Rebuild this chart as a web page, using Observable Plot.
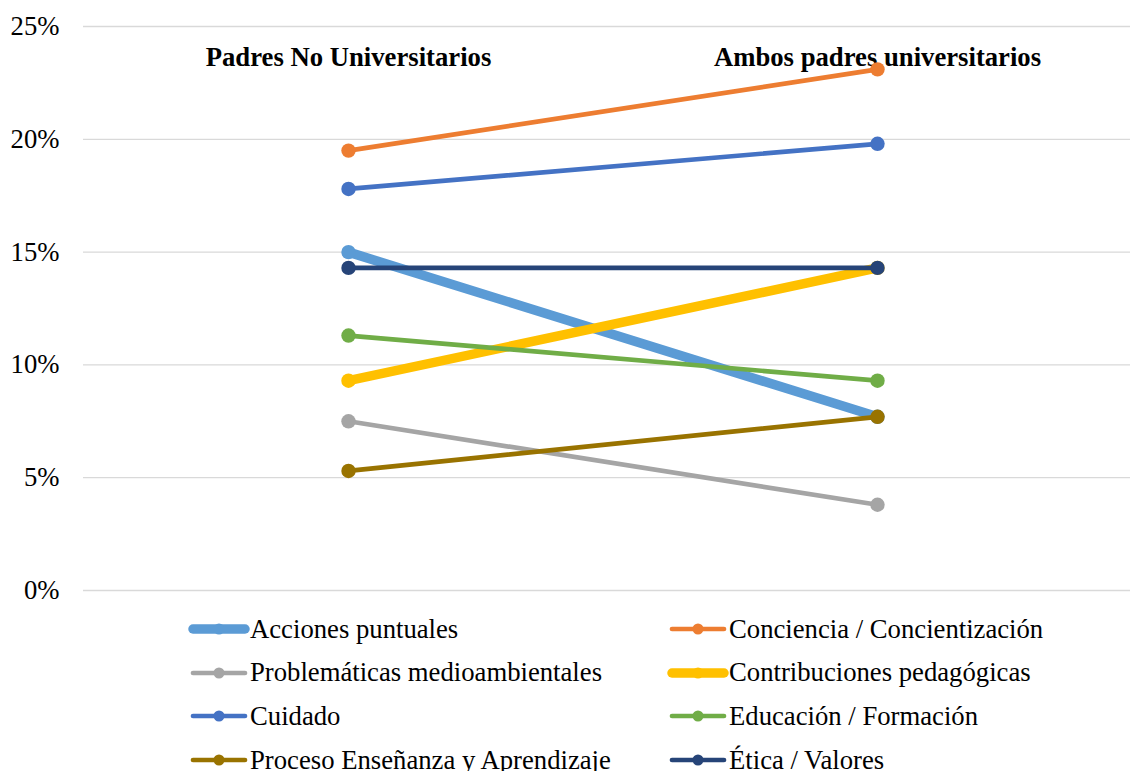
<!DOCTYPE html>
<html>
<head>
<meta charset="utf-8">
<script src="https://cdn.jsdelivr.net/npm/d3@7"></script>
<script src="https://cdn.jsdelivr.net/npm/@observablehq/plot@0.6"></script>
<style>
  html, body { margin: 0; padding: 0; background: #fff; }
  #wrap { position: relative; width: 1130px; height: 771px; overflow: hidden; font-family: "Liberation Serif", "Times New Roman", serif; }
  #legend { position: absolute; left: 0; top: 605px; width: 1130px; }
  .item { position: absolute; display: flex; align-items: center; height: 44px; font-size: 26.7px; color: #000; white-space: nowrap; }
  .item svg { display: block; flex: none; }
</style>
</head>
<body>
<div id="wrap">
  <div id="chart"></div>
  <div id="legend"></div>
</div>
<script>
// Groups compared on the horizontal axis
const categories = ["Padres No Universitarios", "Ambos padres universitarios"];

// Categories of responses (series)
const series = [
  "Acciones puntuales",
  "Conciencia / Concientización",
  "Problemáticas medioambientales",
  "Contribuciones pedagógicas",
  "Cuidado",
  "Educación / Formación",
  "Proceso Enseñanza y Aprendizaje",
  "Ética / Valores"
];

// Share of responses per series, for each group
const padresNoUniversitarios = [0.150, 0.195, 0.075, 0.093, 0.178, 0.113, 0.053, 0.143];
const ambosPadresUniversitarios = [0.077, 0.231, 0.038, 0.143, 0.198, 0.093, 0.077, 0.143];

// Y axis ticks
const yTicks = [0, 0.05, 0.10, 0.15, 0.20, 0.25];

// Series styling
const seriesColors = ["#5B9BD5", "#ED7D31", "#A5A5A5", "#FFC000", "#4472C4", "#70AD47", "#997300", "#264478"];
const seriesWidths = [9.5, 4.7, 4.7, 9.5, 4.7, 4.7, 4.7, 4.7];

const rows = series.flatMap((s, i) => [
  {series: s, group: categories[0], value: padresNoUniversitarios[i]},
  {series: s, group: categories[1], value: ambosPadresUniversitarios[i]}
]);

const W = 1130, H = 605;
const marginLeft = 83, marginTop = 26, marginBottom = H - 590;
const fontSize = 26.7;

const marks = [
  Plot.ruleY(yTicks, {stroke: "#D9D9D9", strokeWidth: 1.3}),
  Plot.axisY({
    ticks: yTicks, tickSize: 0, tickPadding: 24, tickFormat: d3.format(".0%"),
    fontSize, fill: "#000", label: null
  }),
  Plot.text(categories, {
    x: d => d, text: d => d, frameAnchor: "top", dy: 31, lineAnchor: "middle",
    fontSize, fontWeight: "bold", fill: "#000"
  })
];

// Each series drawn in order: line then its markers
series.forEach((s, i) => {
  const data = rows.filter(r => r.series === s);
  marks.push(
    Plot.line(data, {x: "group", y: "value", stroke: seriesColors[i], strokeWidth: seriesWidths[i], strokeLinecap: "round"}),
    Plot.dot(data, {x: "group", y: "value", r: 7.2, fill: seriesColors[i], stroke: "none"})
  );
});

const chart = Plot.plot({
  width: W,
  height: H,
  marginLeft,
  marginRight: 0,
  marginTop,
  marginBottom,
  style: {fontFamily: "'Liberation Serif', 'Times New Roman', serif", background: "#fff", overflow: "visible"},
  x: {type: "point", domain: categories, range: [marginLeft, 1142], padding: 0.5, axis: null},
  y: {domain: [0, 0.25], axis: null},
  marks
});
document.getElementById("chart").appendChild(chart);

// Legend: two columns, in series order
const legend = document.getElementById("legend");
const colX = [188, 667];
series.forEach((s, i) => {
  const col = i % 2, row = Math.floor(i / 2);
  const item = document.createElement("div");
  item.className = "item";
  item.style.left = colX[col] + "px";
  item.style.top = (2 + row * 43.7) + "px";
  const sw = d3.create("svg").attr("width", 62).attr("height", 20);
  const lw = seriesWidths[i];
  sw.append("line").attr("x1", 5).attr("x2", 57).attr("y1", 10).attr("y2", 10)
    .attr("stroke", seriesColors[i]).attr("stroke-width", lw).attr("stroke-linecap", "round");
  sw.append("circle").attr("cx", 31).attr("cy", 10).attr("r", 5.5).attr("fill", seriesColors[i]);
  item.appendChild(sw.node());
  const label = document.createElement("span");
  label.textContent = s;
  item.appendChild(label);
  legend.appendChild(item);
});
</script>
</body>
</html>
